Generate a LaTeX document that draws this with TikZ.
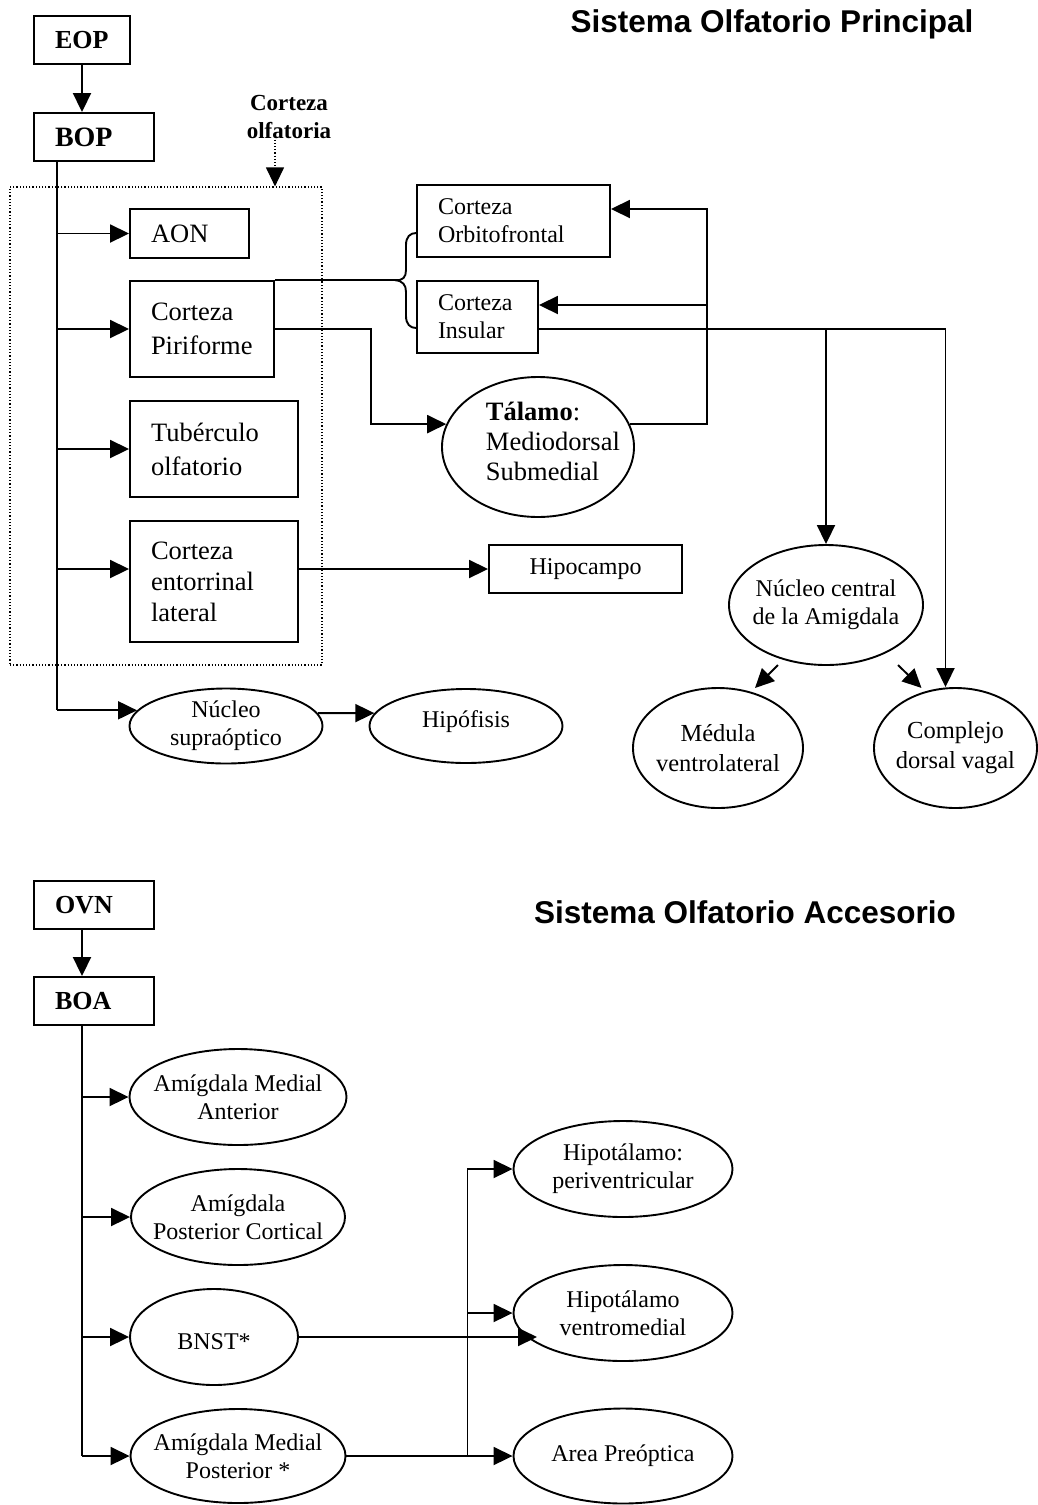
\documentclass[tikz,border=0pt]{standalone}
\usepackage{fontspec}
\setmainfont{Liberation Serif}
\newfontfamily\TitleFont{Liberation Sans}
\usetikzlibrary{arrows.meta,shapes.geometric,calc}
\newcommand\FBig{\fontsize{26.5}{31}\selectfont}
\newcommand\FBigW{\fontsize{26.5}{34}\selectfont}
\newcommand\FMed{\fontsize{24}{28}\selectfont}
\begin{document}
\begin{tikzpicture}[x=1pt,y=-1pt,
  line width=1.9pt,
  arr/.style={-{Triangle[length=19pt,width=18pt]}},
  boxn/.style={draw, rectangle, inner xsep=21pt, inner ysep=0pt, align=left},
  ell/.style={draw, ellipse, inner sep=0pt},
  txt/.style={inner sep=0pt, align=center},
  ttl/.style={inner sep=0pt, font=\TitleFont\bfseries\fontsize{31.5}{36}\selectfont}
]
\useasboundingbox (0,0) rectangle (1038,1505);

% ---------- titles ----------
\node[ttl] (t1) at (772,24) {Sistema Olfatorio Principal};
\node[ttl] (t2) at (745,912) {Sistema Olfatorio Accesorio};

% ---------- upper part: boxes ----------
\node[boxn, minimum width=96pt, minimum height=48pt, text width=54pt, font=\bfseries\fontsize{26}{30}\selectfont] (eop) at (82,40) {EOP};
\node[boxn, minimum width=120pt, minimum height=48pt, text width=78pt, font=\bfseries\fontsize{28}{32}\selectfont] (bop) at (94,137) {BOP};
\node[txt, font=\bfseries\fontsize{23}{28}\selectfont] (colf) at (289,117) {Corteza\\olfatoria};
\node[draw, dotted, line width=1.2pt, minimum width=312pt, minimum height=478pt, inner sep=0pt] (cortex) at (166,426) {};

\node[boxn, minimum width=119pt, minimum height=49pt, text width=77pt, font=\FBig] (aon) at (189.5,233.5) {AON};
\node[boxn, minimum width=144pt, minimum height=96pt, text width=102pt, font=\FBigW] (pir) at (202,329) {Corteza\\Piriforme};
\node[boxn, minimum width=168pt, minimum height=96pt, text width=126pt, font=\FBigW] (tub) at (214,449) {Tubérculo\\olfatorio};
\node[boxn, minimum width=168pt, minimum height=121pt, text width=126pt, font=\FBig] (ent) at (214,581.5) {Corteza\\entorrinal\\lateral};

\node[boxn, minimum width=193pt, minimum height=72pt, text width=151pt, font=\FMed] (orb) at (513.5,221) {Corteza\\Orbitofrontal};
\node[boxn, minimum width=121pt, minimum height=72pt, text width=79pt, font=\FMed] (ins) at (477.5,317) {Corteza\\Insular};
\node[boxn, align=center, minimum width=193pt, minimum height=48pt, text width=151pt, font=\FMed] (hip) at (585.5,569) {Hipocampo};

% ---------- upper part: ellipses ----------
\node[ell, minimum width=192pt, minimum height=140pt] (tal) at (538,447) {};
\node[inner sep=0pt, align=left, anchor=west, font=\fontsize{26.5}{30}\selectfont] (talt) at (485,441) {\textbf{Tálamo}:\\Mediodorsal\\Submedial};

\node[ell, minimum width=194pt, minimum height=120pt] (nca) at (826,605) {};
\node[txt, font=\FMed] (ncat) at (nca.center) {Núcleo central\\de la Amigdala};

\node[ell, minimum width=170pt, minimum height=120pt] (med) at (718,748) {};
\node[txt, font=\fontsize{24.5}{30}\selectfont] (medt) at (med.center) {Médula\\ventrolateral};

\node[ell, minimum width=163pt, minimum height=120pt] (cdv) at (955.5,748) {};
\node[txt, font=\fontsize{24.5}{30}\selectfont] (cdvt) at (cdv.center) {Complejo\\dorsal vagal};

\node[ell, minimum width=193pt, minimum height=75pt] (sup) at (226,726) {};
\node[txt, font=\FMed] (supt) at (sup.center) {Núcleo\\supraóptico};

\node[ell, minimum width=193pt, minimum height=74pt] (hipo) at (466,726) {};
\node[txt, font=\FMed] (hipot) at ([yshift=4pt]hipo.center) {Hipófisis};

% ---------- upper part: connectors ----------
\draw[arr] (eop.south) -- (eop.south |- bop.north);
\draw[arr, dotted, line width=1.2pt] ([xshift=-14pt]colf.south) -- ([xshift=109pt]cortex.north);

\coordinate (b1) at ([xshift=24pt]bop.south west);
\draw (b1) -- (b1 |- sup.170);
\draw[arr] (b1 |- aon.west) -- (aon.west);
\draw[arr] (b1 |- pir.west) -- (pir.west);
\draw[arr] (b1 |- tub.west) -- (tub.west);
\draw[arr] (b1 |- hip.west) -- (ent.west |- hip.west);
\draw[arr] (b1 |- sup.170) -- (sup.170);
\draw[arr] (sup.8) -- (hipo.172);

\draw[arr] (hip.west -| ent.east) -- (hip.west);

% brace towards orbitofrontal / insular
\coordinate (bt) at ([xshift=-21pt]ins.west |- pir.north);
\coordinate (bo) at ([yshift=-12pt]orb.west);
\coordinate (bi) at ([yshift=-11pt]ins.west);
\draw (pir.north east) -- (bt);
\draw (bt) .. controls (403,281) and (406,277) .. (406,270) -- (406,245)
      .. controls (406,237) and (410,233) .. (bo);
\draw (bt) .. controls (403,281) and (406,285) .. (406,292) -- (406,316)
      .. controls (406,324) and (410,328) .. (bi);

% piriforme -> talamo
\draw[arr] (pir.east) -- ([xshift=96pt]pir.east) |- (tal.166);

% talamo -> orbitofrontal / insular
\coordinate (orbIn) at ([yshift=12pt]orb.east);
\coordinate (insIn) at ([yshift=12pt]ins.east);
\coordinate (rv) at ([xshift=96pt]orbIn);
\draw[arr] (tal.14) -| (rv) -- (orbIn);
\draw[arr] (rv |- insIn) -- (insIn);

% insular -> amigdala / complejo
\coordinate (insOut) at ([yshift=-12pt]ins.east);
\draw[arr] (insOut) -| ([xshift=-10pt]cdv.north);
\draw[arr] (nca.north |- insOut) -- (nca.north);

% nucleo central -> medula / complejo
\draw[arr] ($(nca.center)+(-48,60)$) -- ($(med.center)+(37,-60)$);
\draw[arr] ($(nca.center)+(72,60)$) -- ($(cdv.center)+(-34,-60)$);

% ---------- lower part ----------
\node[boxn, minimum width=120pt, minimum height=48pt, text width=78pt, font=\bfseries\fontsize{26}{30}\selectfont] (ovn) at (94,905) {OVN};
\node[boxn, minimum width=120pt, minimum height=48pt, text width=78pt, font=\bfseries\fontsize{26}{30}\selectfont] (boa) at (94,1001) {BOA};

\node[ell, minimum width=217pt, minimum height=96pt] (ama) at (238,1097) {};
\node[txt, font=\FMed] (amat) at (ama.center) {Amígdala Medial\\Anterior};
\node[ell, minimum width=214pt, minimum height=96pt] (apc) at (238,1217) {};
\node[txt, font=\FMed] (apct) at (apc.center) {Amígdala\\Posterior Cortical};
\node[ell, minimum width=168pt, minimum height=96pt] (bnst) at (214,1337) {};
\node[txt, font=\FMed] (bnstt) at ([yshift=-5pt]bnst.center) {BNST*};
\node[ell, minimum width=215pt, minimum height=94pt] (amp) at (238,1456) {};
\node[txt, font=\FMed] (ampt) at (amp.center) {Amígdala Medial\\Posterior *};

\node[ell, minimum width=219pt, minimum height=96pt] (hp) at (623,1169) {};
\node[txt, font=\FMed] (hpt) at (hp.center) {Hipotálamo:\\periventricular};
\node[ell, minimum width=219pt, minimum height=96pt] (hv) at (623,1313) {};
\node[txt, font=\FMed] (hvt) at (hv.center) {Hipotálamo\\ventromedial};
\node[ell, minimum width=219pt, minimum height=95pt] (ap) at (623,1456) {};
\node[txt, font=\FMed] (apt) at (ap.center) {Area Preóptica};

\draw[arr] ([xshift=-12pt]ovn.south) -- ([xshift=-12pt]boa.north);
\coordinate (b2) at ([xshift=-12pt]boa.south);
\draw (b2) -- (b2 |- amp.west);
\draw[arr] (b2 |- ama.west) -- (ama.west);
\draw[arr] (b2 |- apc.west) -- (apc.west);
\draw[arr] (b2 |- bnst.west) -- (bnst.west);
\draw[arr] (b2 |- amp.west) -- (amp.west);

\draw[arr] (amp.east) -- (ap.west);
\coordinate (b3) at ([xshift=121pt]amp.east);
\draw (b3) -- (b3 |- hp.west);
\draw[arr] (b3 |- hp.west) -- (hp.west);
\draw[arr] (b3 |- hv.west) -- (hv.west);
\draw[arr] (bnst.east) -- ($(hv.center)+(-86,24)$);
\end{tikzpicture}
\end{document}
